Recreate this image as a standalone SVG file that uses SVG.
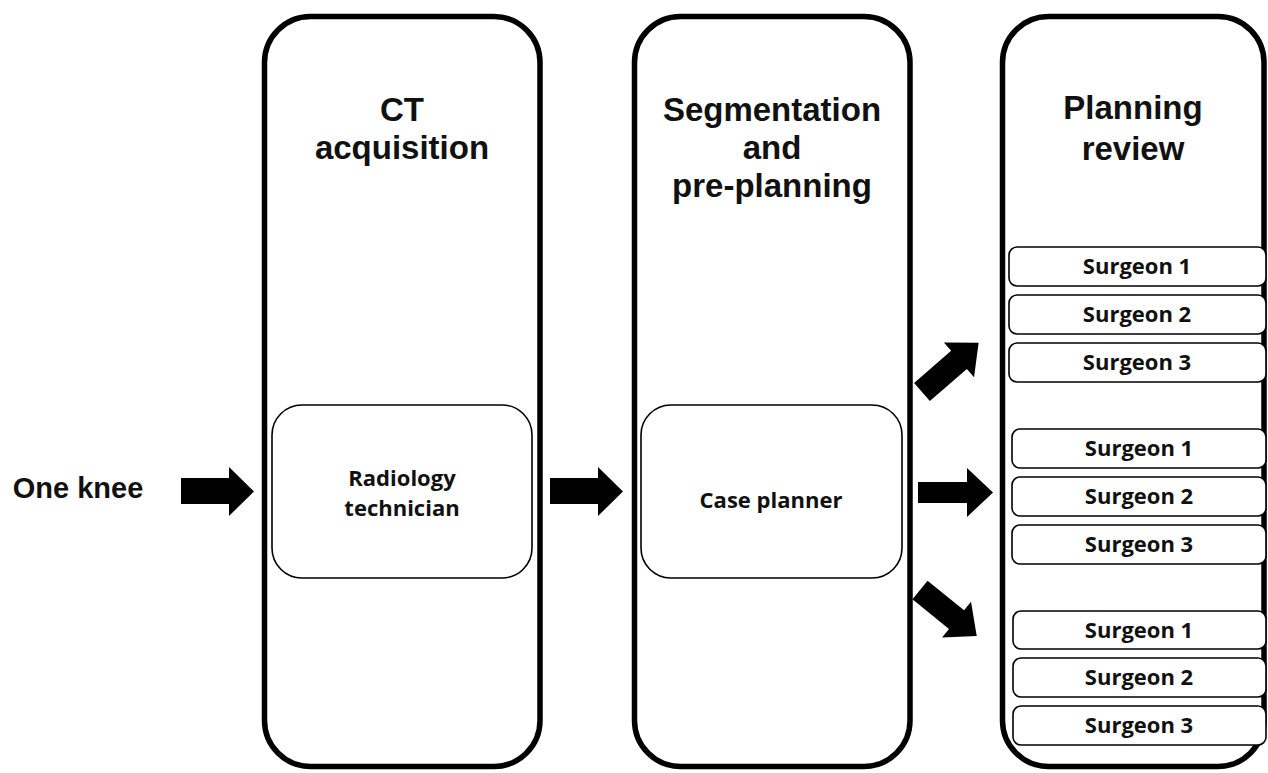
<svg xmlns="http://www.w3.org/2000/svg" width="1268" height="773" viewBox="0 0 1268 773">
<style>
.stage{fill:#fff;stroke:#000;stroke-width:5.5}
.inner{fill:#fff;stroke:#000;stroke-width:1.6}
.sg{fill:#fff;stroke:#000;stroke-width:1.6}
.title{font-family:"Liberation Sans",Arial,sans-serif;font-weight:bold;font-size:33px;fill:#111;text-anchor:middle}
.lbl{font-family:"Open Sans","Noto Sans",sans-serif;font-weight:bold;font-size:22px;fill:#111;text-anchor:middle}
.arrow{fill:#000}
</style>
<rect width="1268" height="773" fill="#fff"/>
<g id="start">
<text x="78" y="498" style="font-family:'Liberation Sans',Arial,sans-serif;font-weight:bold;font-size:29px;fill:#111;text-anchor:middle">One knee</text>
</g>
<g id="ct-acquisition">
<rect class="stage" x="264.5" y="16.5" width="275.5" height="750" rx="46"/>
<text class="title" x="402" y="121">CT</text>
<text class="title" x="402" y="159">acquisition</text>
<g id="radiology-technician">
<rect class="inner" x="272" y="405" width="260" height="173" rx="30"/>
<text class="lbl" x="402" y="486">Radiology</text>
<text class="lbl" x="402" y="516">technician</text>
</g>
</g>
<g id="segmentation">
<rect class="stage" x="634.5" y="16.5" width="275.5" height="750" rx="46"/>
<text class="title" x="772" y="121">Segmentation</text>
<text class="title" x="772" y="159">and</text>
<text class="title" x="772" y="197">pre-planning</text>
<g id="case-planner">
<rect class="inner" x="641" y="405" width="261" height="173" rx="30"/>
<text class="lbl" x="771" y="508">Case planner</text>
</g>
</g>
<g id="planning-review">
<rect class="stage" x="1002.5" y="16.5" width="261.5" height="750" rx="46"/>
<text class="title" x="1133" y="119">Planning</text>
<text class="title" x="1133" y="160">review</text>
<g id="group-1">
<rect class="sg" x="1009" y="247" width="257" height="39" rx="8"/>
<text class="lbl" x="1137" y="274">Surgeon 1</text>
<rect class="sg" x="1009" y="295" width="257" height="39" rx="8"/>
<text class="lbl" x="1137" y="322">Surgeon 2</text>
<rect class="sg" x="1009" y="343" width="257" height="39" rx="8"/>
<text class="lbl" x="1137" y="370">Surgeon 3</text>
</g>
<g id="group-2">
<rect class="sg" x="1012" y="429" width="254" height="39" rx="8"/>
<text class="lbl" x="1139" y="456">Surgeon 1</text>
<rect class="sg" x="1012" y="477" width="254" height="39" rx="8"/>
<text class="lbl" x="1139" y="504">Surgeon 2</text>
<rect class="sg" x="1012" y="525" width="254" height="39" rx="8"/>
<text class="lbl" x="1139" y="552">Surgeon 3</text>
</g>
<g id="group-3">
<rect class="sg" x="1013" y="611" width="253" height="38" rx="8"/>
<text class="lbl" x="1139" y="638">Surgeon 1</text>
<rect class="sg" x="1013" y="658" width="253" height="39" rx="8"/>
<text class="lbl" x="1139" y="685">Surgeon 2</text>
<rect class="sg" x="1013" y="706" width="253" height="39" rx="8"/>
<text class="lbl" x="1139" y="733">Surgeon 3</text>
</g>
</g>
<g id="connectors">
<path class="arrow" d="M181,478 H229 V467 L254,491.5 L229,516 V504 H181 Z"/>
<path class="arrow" d="M550,478 H598 V467 L623,491.5 L598,516 V504 H550 Z"/>
<path class="arrow" d="M918,482 H967 V468 L993,492.5 L967,517 V503 H918 Z"/>
<path class="arrow" transform="translate(922,392) rotate(-41)" d="M0,-12 H49 V-23 L75,0 L49,23 V12 H0 Z"/>
<path class="arrow" transform="translate(920,590) rotate(39)" d="M0,-12 H47 V-23 L73,0 L47,23 V12 H0 Z"/>
</g>
</svg>
